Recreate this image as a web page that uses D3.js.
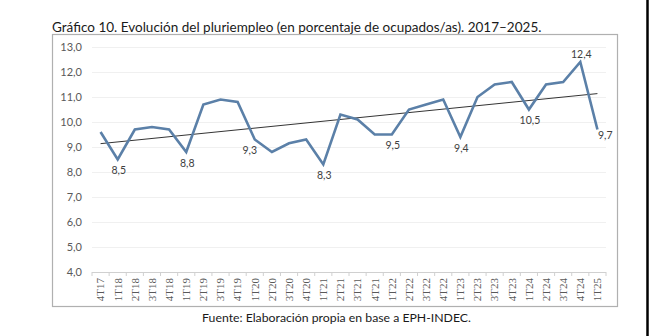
<!DOCTYPE html>
<html>
<head>
<meta charset="utf-8">
<script src="https://cdn.jsdelivr.net/npm/d3@7"></script>
<style>
  html, body { margin: 0; padding: 0; background: #fff; }
  svg { display: block; }
</style>
</head>
<body>
<svg id="chart" width="649" height="336"></svg>
<script>
// ---- data ----
const categories = ["4T17","1T18","2T18","3T18","4T18","1T19","2T19","3T19","4T19","1T20","2T20","3T20","4T20","1T21","2T21","3T21","4T21","1T22","2T22","3T22","4T22","1T23","2T23","3T23","4T23","1T24","2T24","3T24","4T24","1T25"];
const values = [9.6, 8.5, 9.7, 9.8, 9.7, 8.8, 10.7, 10.9, 10.8, 9.3, 8.8, 9.15, 9.3, 8.3, 10.3, 10.1, 9.5, 9.5, 10.5, 10.7, 10.9, 9.4, 11.0, 11.5, 11.6, 10.5, 11.5, 11.6, 12.4, 9.7];
const labeledCats = ["1T18","1T19","1T20","1T21","1T22","1T23","1T24","4T24","1T25"];
const yTicks = [4,5,6,7,8,9,10,11,12,13];
const titleText = "Gráfico 10. Evolución del pluriempleo (en porcentaje de ocupados/as). 2017–2025.";
const sourceText = "Fuente: Elaboración propia en base a EPH-INDEC.";

// ---- drawing ----
const svg = d3.select("#chart");
const fmt = v => d3.format(".1f")(v).replace(".", ",");
const sans = "Lato, 'Open Sans', sans-serif";

function fitText(sel, width) {
  const node = sel.node();
  let fs = parseFloat(sel.attr("font-size"));
  const w = node.getComputedTextLength();
  sel.attr("font-size", (fs * width / w).toFixed(2));
}

// title
const title = svg.append("text").attr("x", 52).attr("y", 31.5)
  .attr("font-family", sans).attr("font-size", 13).attr("fill", "#1a1a1a")
  .text(titleText);
fitText(title, 490);

// frame
svg.append("rect").attr("x", 52.5).attr("y", 34.5).attr("width", 565).attr("height", 272)
  .attr("fill", "none").attr("stroke", "#b0b0b0").attr("stroke-width", 1.2);

// page edge line on right
svg.append("line").attr("x1", 647.5).attr("x2", 647.5).attr("y1", 0).attr("y2", 336)
  .attr("stroke", "#000").attr("stroke-width", 2.5);

const x = d3.scaleBand().domain(categories).range([92, 606]);
const y = d3.scaleLinear().domain([4, 13]).range([272, 47]);
const cx = c => x(c) + x.bandwidth() / 2;

// gridlines
svg.append("g").selectAll("line").data(yTicks.filter(t => t > 4)).join("line")
  .attr("x1", 92).attr("x2", 606)
  .attr("y1", d => y(d) + 0.5).attr("y2", d => y(d) + 0.5)
  .attr("stroke", "#f0f0f0").attr("stroke-width", 1);

// y axis labels
const yAxis = d3.axisLeft(y).tickValues(yTicks).tickFormat(fmt).tickSize(0).tickPadding(0);
const gy = svg.append("g").attr("transform", "translate(82,0)").call(yAxis);
gy.select(".domain").remove();
gy.selectAll("text").attr("font-family", sans).attr("font-size", 11).attr("fill", "#595959");

// x axis
const xAxis = d3.axisBottom(x).tickSize(0).tickPadding(0);
const gx = svg.append("g").attr("transform", `translate(0,${y(4)})`).call(xAxis);
gx.select(".domain").attr("stroke", "#d0d0d0").attr("stroke-width", 1)
  .attr("d", `M92,0.5H606`);
gx.selectAll(".tick text")
  .attr("font-family", "'Liberation Serif', 'DejaVu Serif', serif")
  .attr("font-size", 11).attr("fill", "#595959")
  .attr("transform", "rotate(-90)")
  .attr("text-anchor", "end").attr("dy", "0.35em").attr("x", -6).attr("y", 0);
// tick marks between categories
const boundaries = categories.map(c => x(c)).concat([x(categories[categories.length - 1]) + x.bandwidth()]);
gx.append("g").selectAll("line").data(boundaries).join("line")
  .attr("x1", d => d).attr("x2", d => d).attr("y1", 0).attr("y2", 4)
  .attr("stroke", "#d0d0d0").attr("stroke-width", 1);

// trend line (linear regression of series)
const n = values.length;
const idx = d3.range(n);
const mx = d3.mean(idx), my = d3.mean(values);
const slope = d3.sum(idx, i => (i - mx) * (values[i] - my)) / d3.sum(idx, i => (i - mx) ** 2);
const icpt = my - slope * mx;
svg.append("line")
  .attr("x1", cx(categories[0])).attr("y1", y(icpt))
  .attr("x2", cx(categories[n - 1])).attr("y2", y(icpt + slope * (n - 1)))
  .attr("stroke", "#000").attr("stroke-width", 0.8);

// series line
const line = d3.line().x((d, i) => cx(categories[i])).y(d => y(d));
svg.append("path").datum(values).attr("d", line)
  .attr("fill", "none").attr("stroke", "#5b80a8").attr("stroke-width", 2.6)
  .attr("stroke-linejoin", "miter");

// data labels
const placement = { "4T24": "above", "1T25": "right", "1T20": "belowLeft" };
svg.append("g").selectAll("text").data(labeledCats).join("text")
  .attr("font-family", sans).attr("font-size", 10.5).attr("fill", "#404040")
  .attr("x", c => {
    const p = placement[c];
    if (p === "right") return cx(c) + 0.5;
    if (p === "belowLeft") return cx(c) - 5;
    return cx(c) + 1;
  })
  .attr("y", c => {
    const v = values[categories.indexOf(c)];
    const p = placement[c];
    if (p === "above") return y(v) - 4;
    if (p === "right") return y(v) + 9;
    return y(v) + 14.5;
  })
  .attr("text-anchor", c => placement[c] === "right" ? "start" : "middle")
  .text(c => fmt(values[categories.indexOf(c)]));

// source
const src = svg.append("text").attr("x", 336.5).attr("y", 321.5).attr("text-anchor", "middle")
  .attr("font-family", sans).attr("font-size", 12).attr("fill", "#1a1a1a")
  .text(sourceText);
fitText(src, 269);
</script>
</body>
</html>
